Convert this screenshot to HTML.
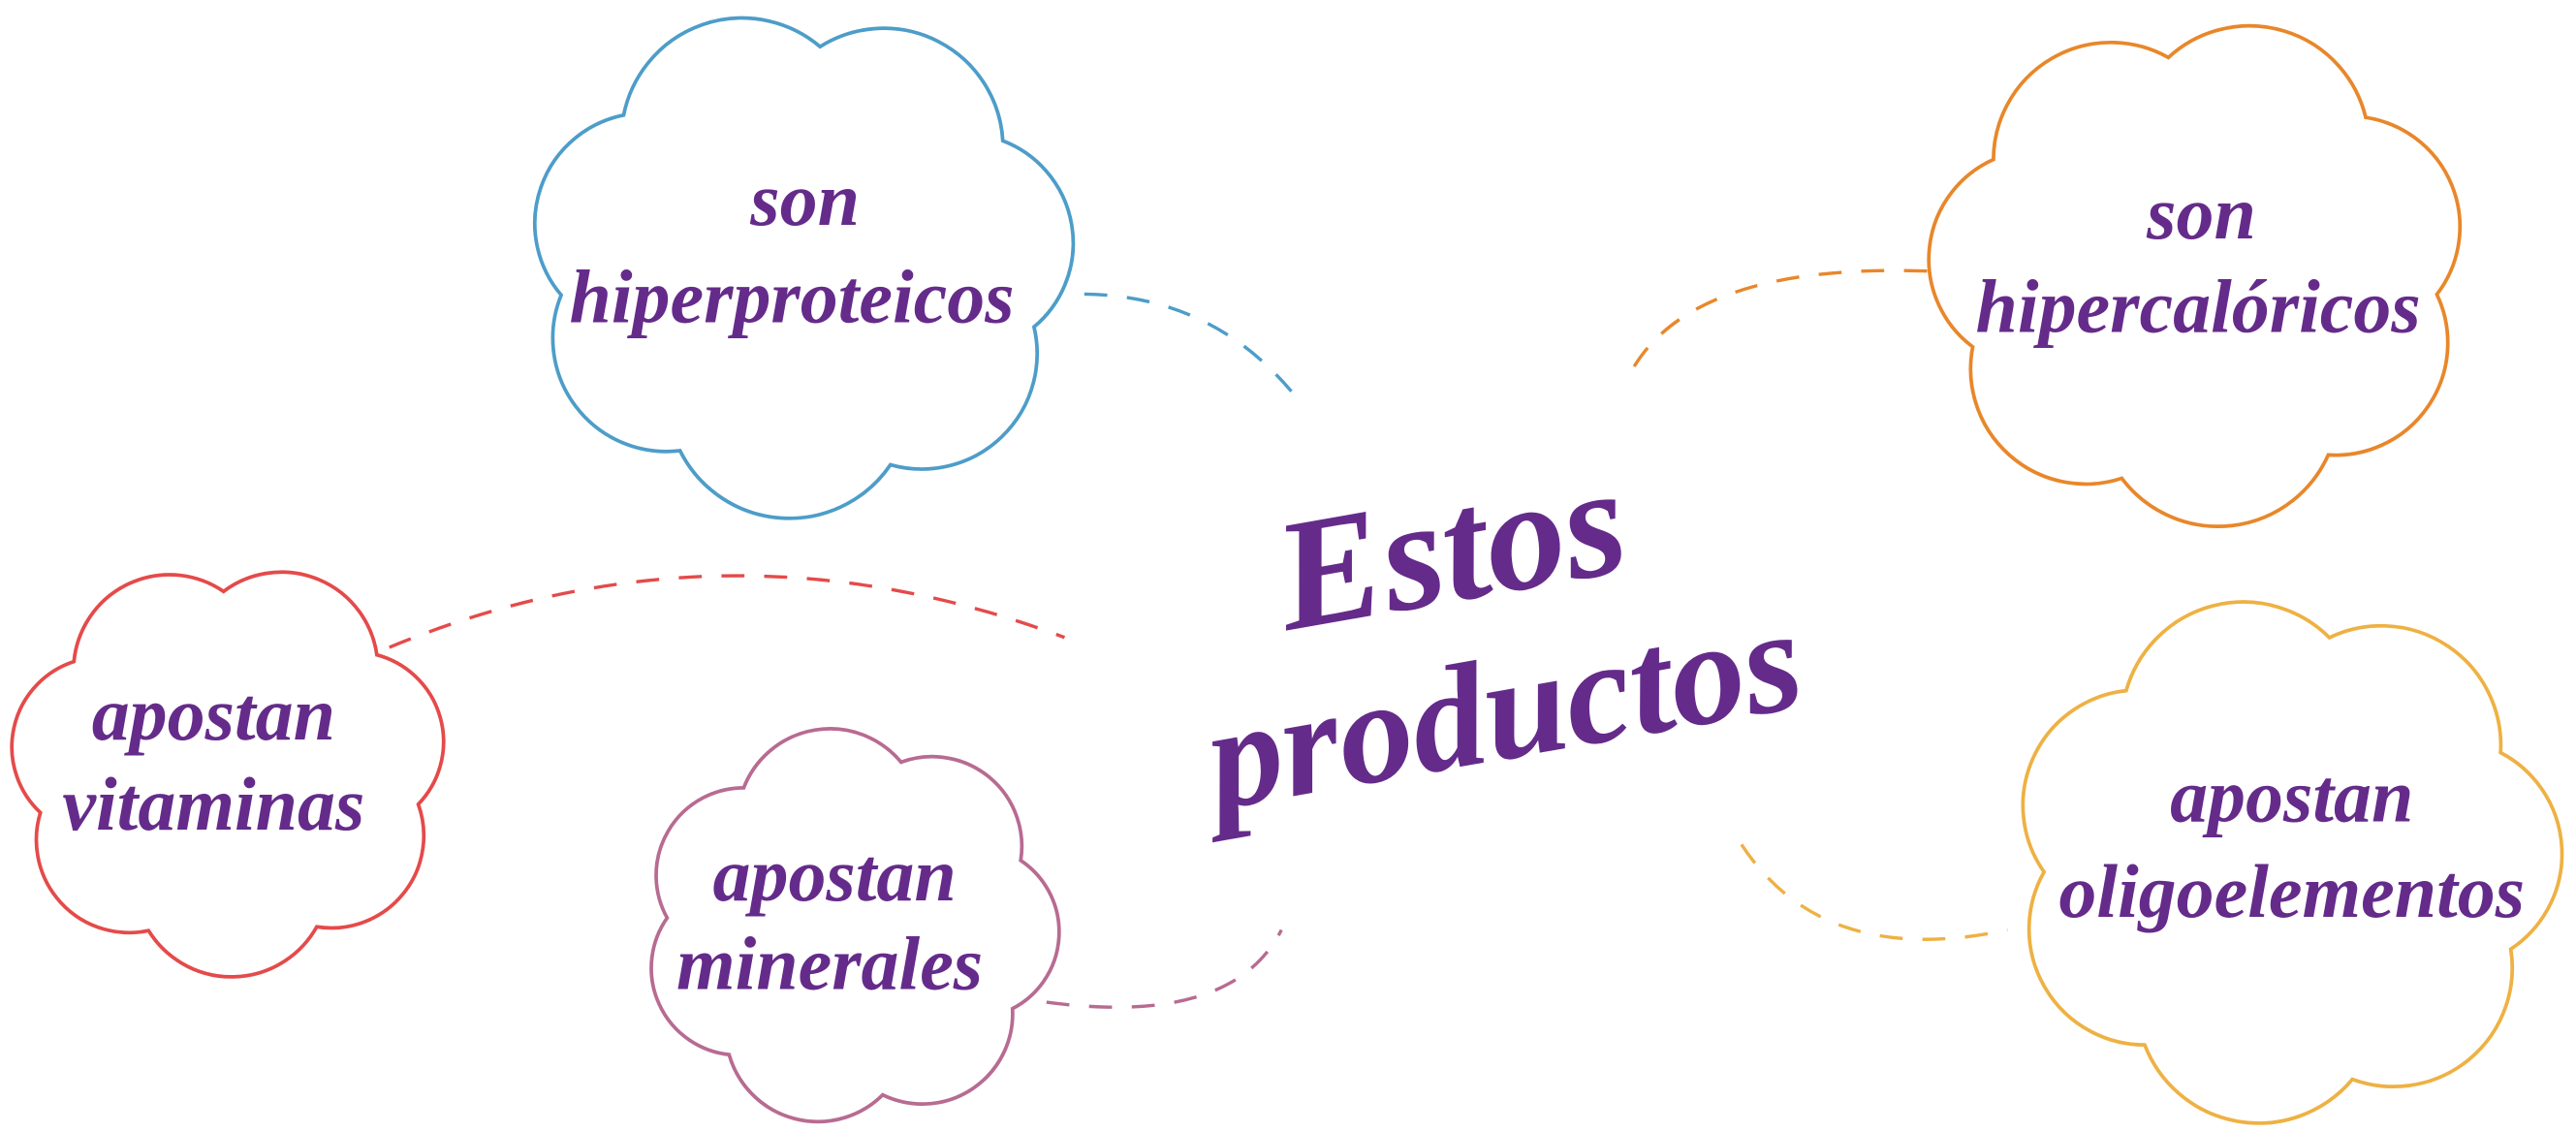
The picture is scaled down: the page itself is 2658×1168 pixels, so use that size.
<!DOCTYPE html>
<html><head><meta charset="utf-8">
<style>html,body{margin:0;padding:0;background:#fff;}svg{display:block}</style></head>
<body>
<svg id="s" width="2658" height="1168" viewBox="0 0 1568 689" preserveAspectRatio="none" xmlns="http://www.w3.org/2000/svg">
<g fill="none" stroke-width="2.2">
<path id="c1" stroke="#4d9dc9"/>
<path id="c2" stroke="#e8872a"/>
<path id="c3" stroke="#e54a4a"/>
<path id="c4" stroke="#b86b92"/>
<path id="c5" stroke="#eeb143"/>
</g>
<g fill="none" stroke-width="2" stroke-dasharray="14 12">
<path d="M660 179 Q740 180 790 243" stroke="#4d9dc9"/>
<path d="M1173 165 Q1030 160 993 226" stroke="#e8872a"/>
<path d="M237 394 Q440 310 648 388" stroke="#e54a4a"/>
<path d="M637 610 Q750 625 780 566" stroke="#b86b92"/>
<path d="M1060 514 Q1110 590 1222 566" stroke="#eeb143"/>
</g>
<g fill="#652b8a" font-family="Liberation Serif, serif" font-style="italic" font-weight="bold" text-anchor="middle">
<text x="490" y="137" font-size="46">son</text>
<text x="482" y="196" font-size="46">hiperproteicos</text>
<text x="1340" y="145" font-size="46">son</text>
<text x="1338" y="202" font-size="46">hipercalóricos</text>
<text x="130" y="450" font-size="46">apostan</text>
<text x="130" y="505" font-size="46">vitaminas</text>
<text x="508" y="548" font-size="46">apostan</text>
<text x="505" y="602" font-size="46">minerales</text>
<text x="1395" y="500" font-size="46">apostan</text>
<text x="1395" y="558" font-size="46">oligoelementos</text>
<g transform="rotate(-10 910 400)">
<text x="895" y="362" font-size="96">Estos</text>
<text x="910" y="462" font-size="90">productos</text>
</g>
</g>
</svg>
<script>
function cloud(id,cx,cy,rx,ry,n,ph){
 var pts=[];for(var i=0;i<n;i++){var a=ph+i*2*Math.PI/n;pts.push([cx+rx*Math.cos(a),cy+ry*Math.sin(a)]);}
 var d="M"+pts[0][0].toFixed(1)+" "+pts[0][1].toFixed(1);
 for(var i=1;i<=n;i++){var p=pts[i%n],q=pts[i-1];var ch=Math.hypot(p[0]-q[0],p[1]-q[1]);var r=ch*0.58;
  d+=" A"+r.toFixed(1)+" "+r.toFixed(1)+" 0 0 1 "+p[0].toFixed(1)+" "+p[1].toFixed(1);}
 document.getElementById(id).setAttribute("d",d+"Z");}
cloud("c1",488,160,148,132,7,0.3);
cloud("c2",1338,166,146,132,7,0.1);
cloud("c3",139,468,118,108,7,0.2);
cloud("c4",518,564,112,104,7,0.5);
cloud("c5",1392,524,148,138,7,0.4);
</script>
</body></html>
